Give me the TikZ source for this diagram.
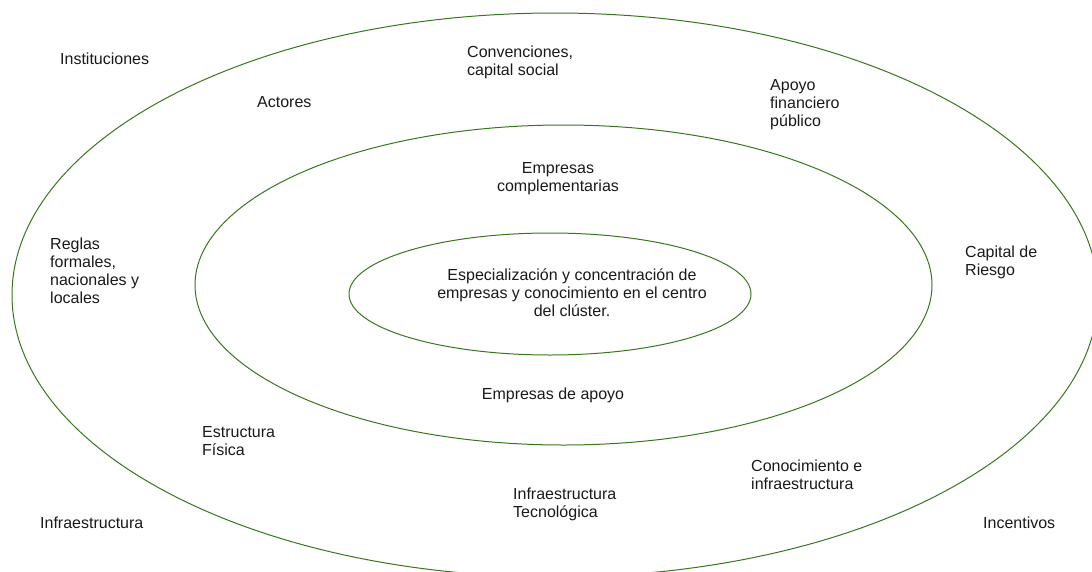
\documentclass[tikz,border=0pt]{standalone}
\usepackage{fontspec}
\setmainfont{Liberation Sans}
\usetikzlibrary{shapes.geometric}
\definecolor{ringgreen}{RGB}{56,118,29}
\begin{document}
\begin{tikzpicture}[x=1pt,y=-1pt,
  ring/.style={ellipse, draw=ringgreen, line width=1pt, inner sep=0pt},
  lbl/.style={font=\fontsize{16}{18}\selectfont, inner sep=0pt, align=left, anchor=west, text=black!90},
  clbl/.style={font=\fontsize{16}{18}\selectfont, inner sep=0pt, align=center, text=black!90}]
\useasboundingbox (0,0) rectangle (1092,571);
\clip (0,0) rectangle (1092,571);
% rings
\node[ring, minimum width=1086pt, minimum height=564pt] (outer) at (555,295) {};
\node[ring, minimum width=737pt, minimum height=320pt] (middle) at (563.5,285) {};
\node[ring, minimum width=402pt, minimum height=122pt] (inner) at (550,294) {};
% labels
\node[lbl] (inst) at (60,59) {Instituciones};
\node[lbl] (act) at (257,102) {Actores};
\node[lbl] (conv) at (467,62) {Convenciones,\\capital social};
\node[lbl] (apoyo) at (770,105) {Apoyo\\financiero\\público};
\node[clbl] (compl) at (558,179) {Empresas\\complementarias};
\node[lbl] (riesgo) at (965,262) {Capital de\\Riesgo};
\node[lbl] (reglas) at (50,271) {Reglas\\formales,\\nacionales y\\locales};
\node[clbl] (centro) at (572,293) {Especialización y concentración de\\empresas y conocimiento en el centro\\del clúster.};
\node[clbl] (apoyoemp) at (553,395) {Empresas de apoyo};
\node[lbl] (fisica) at (202,441) {Estructura\\Física};
\node[lbl] (infra) at (40,523) {Infraestructura};
\node[lbl] (tecno) at (513,504) {Infraestructura\\Tecnológica};
\node[lbl] (conoc) at (751,475) {Conocimiento e\\infraestructura};
\node[lbl] (incent) at (983,523) {Incentivos};
\end{tikzpicture}
\end{document}
